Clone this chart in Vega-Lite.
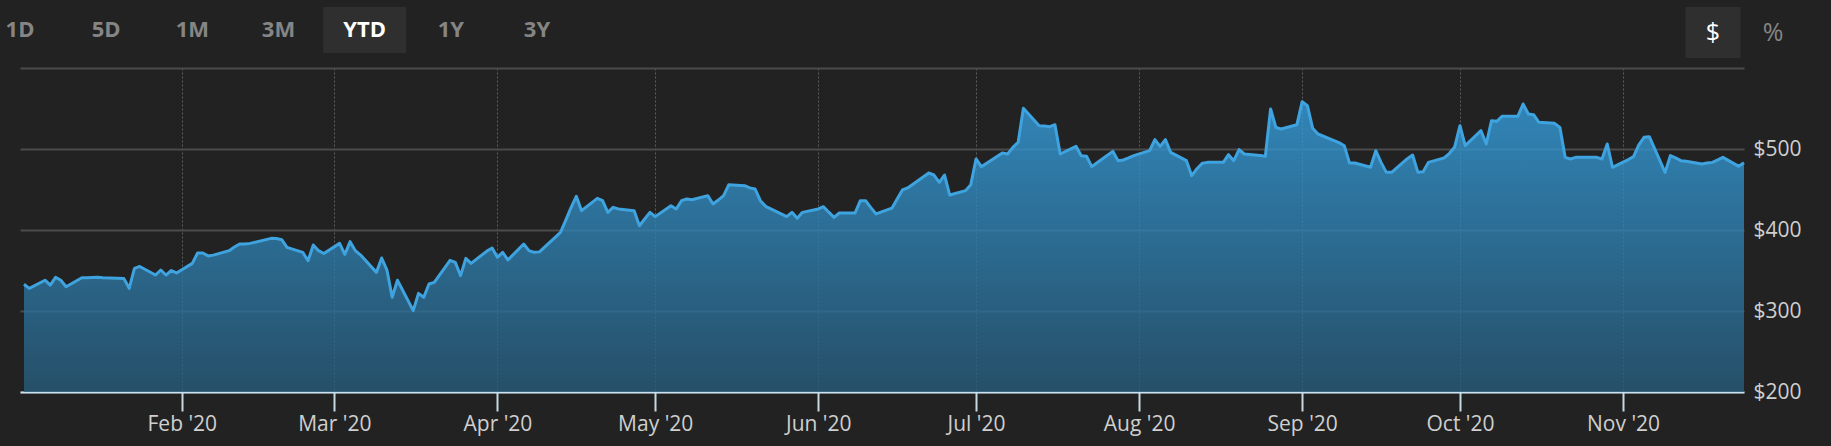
{
  "$schema": "https://vega.github.io/schema/vega-lite/v6.json",
  "background": "#222222",
  "padding": {"left": 5, "top": 7, "right": 33, "bottom": 12},
  "bounds": "full",
  "spacing": 10,
  "config": {"view": {"stroke": null}, "font": "Open Sans"},
  "datasets": {
    "ranges": [
      {"label": "1D", "selected": false},
      {"label": "5D", "selected": false},
      {"label": "1M", "selected": false},
      {"label": "3M", "selected": false},
      {"label": "YTD", "selected": true},
      {"label": "1Y", "selected": false},
      {"label": "3Y", "selected": false}
    ],
    "units": [
      {"label": "$", "selected": true},
      {"label": "%", "selected": false}
    ],
    "prices": [
      {"date": "2020-01-02", "price": 333}, {"date": "2020-01-03", "price": 328},
      {"date": "2020-01-06", "price": 338}, {"date": "2020-01-07", "price": 332},
      {"date": "2020-01-08", "price": 341.6}, {"date": "2020-01-09", "price": 338},
      {"date": "2020-01-10", "price": 330}, {"date": "2020-01-13", "price": 341},
      {"date": "2020-01-14", "price": 341}, {"date": "2020-01-15", "price": 341.5},
      {"date": "2020-01-16", "price": 341.6}, {"date": "2020-01-17", "price": 341},
      {"date": "2020-01-21", "price": 340}, {"date": "2020-01-22", "price": 328},
      {"date": "2020-01-23", "price": 352.7}, {"date": "2020-01-24", "price": 355},
      {"date": "2020-01-27", "price": 344.4}, {"date": "2020-01-28", "price": 350.6},
      {"date": "2020-01-29", "price": 344.4}, {"date": "2020-01-30", "price": 350},
      {"date": "2020-01-31", "price": 347},
      {"date": "2020-02-03", "price": 358.8}, {"date": "2020-02-04", "price": 371.6},
      {"date": "2020-02-05", "price": 371.6}, {"date": "2020-02-06", "price": 368},
      {"date": "2020-02-07", "price": 369}, {"date": "2020-02-10", "price": 374.5},
      {"date": "2020-02-11", "price": 379}, {"date": "2020-02-12", "price": 382.7},
      {"date": "2020-02-13", "price": 382.7}, {"date": "2020-02-14", "price": 383.5},
      {"date": "2020-02-18", "price": 389.7}, {"date": "2020-02-19", "price": 389.5},
      {"date": "2020-02-20", "price": 388}, {"date": "2020-02-21", "price": 378.6},
      {"date": "2020-02-24", "price": 372.4}, {"date": "2020-02-25", "price": 362},
      {"date": "2020-02-26", "price": 381.5}, {"date": "2020-02-27", "price": 374.5},
      {"date": "2020-02-28", "price": 371},
      {"date": "2020-03-02", "price": 383.5}, {"date": "2020-03-03", "price": 370},
      {"date": "2020-03-04", "price": 385.6}, {"date": "2020-03-05", "price": 374.5},
      {"date": "2020-03-06", "price": 369}, {"date": "2020-03-09", "price": 347.7},
      {"date": "2020-03-10", "price": 365.4}, {"date": "2020-03-11", "price": 350.6},
      {"date": "2020-03-12", "price": 316.9}, {"date": "2020-03-13", "price": 338},
      {"date": "2020-03-16", "price": 300.4}, {"date": "2020-03-17", "price": 321.8},
      {"date": "2020-03-18", "price": 316.9}, {"date": "2020-03-19", "price": 333.3},
      {"date": "2020-03-20", "price": 335.4}, {"date": "2020-03-23", "price": 362.6},
      {"date": "2020-03-24", "price": 360}, {"date": "2020-03-25", "price": 343.6},
      {"date": "2020-03-26", "price": 365}, {"date": "2020-03-27", "price": 358.8},
      {"date": "2020-03-30", "price": 374}, {"date": "2020-03-31", "price": 377.8},
      {"date": "2020-04-01", "price": 366.3}, {"date": "2020-04-02", "price": 372.4},
      {"date": "2020-04-03", "price": 363}, {"date": "2020-04-06", "price": 382.7},
      {"date": "2020-04-07", "price": 374.5}, {"date": "2020-04-08", "price": 372.4},
      {"date": "2020-04-09", "price": 373}, {"date": "2020-04-13", "price": 397.1},
      {"date": "2020-04-14", "price": 412.3}, {"date": "2020-04-15", "price": 427.6},
      {"date": "2020-04-16", "price": 441.6}, {"date": "2020-04-17", "price": 423.9},
      {"date": "2020-04-20", "price": 439.1}, {"date": "2020-04-21", "price": 436.2},
      {"date": "2020-04-22", "price": 421.8}, {"date": "2020-04-23", "price": 428},
      {"date": "2020-04-24", "price": 426}, {"date": "2020-04-27", "price": 423.9},
      {"date": "2020-04-28", "price": 405.3}, {"date": "2020-04-29", "price": 413.6},
      {"date": "2020-04-30", "price": 421.8},
      {"date": "2020-05-01", "price": 416.5}, {"date": "2020-05-04", "price": 430},
      {"date": "2020-05-05", "price": 425.9}, {"date": "2020-05-06", "price": 436.2},
      {"date": "2020-05-07", "price": 438.3}, {"date": "2020-05-08", "price": 437.4},
      {"date": "2020-05-11", "price": 442.4}, {"date": "2020-05-12", "price": 432.1},
      {"date": "2020-05-13", "price": 437}, {"date": "2020-05-14", "price": 442.4},
      {"date": "2020-05-15", "price": 456}, {"date": "2020-05-18", "price": 454.7},
      {"date": "2020-05-19", "price": 452}, {"date": "2020-05-20", "price": 450.6},
      {"date": "2020-05-21", "price": 436.2}, {"date": "2020-05-22", "price": 429.2},
      {"date": "2020-05-26", "price": 416.5}, {"date": "2020-05-27", "price": 421.8},
      {"date": "2020-05-28", "price": 414.4}, {"date": "2020-05-29", "price": 421.8},
      {"date": "2020-06-01", "price": 426}, {"date": "2020-06-02", "price": 428.8},
      {"date": "2020-06-03", "price": 422}, {"date": "2020-06-04", "price": 415.6},
      {"date": "2020-06-05", "price": 421}, {"date": "2020-06-08", "price": 421},
      {"date": "2020-06-09", "price": 436.2}, {"date": "2020-06-10", "price": 436.2},
      {"date": "2020-06-11", "price": 427.6}, {"date": "2020-06-12", "price": 419.8},
      {"date": "2020-06-15", "price": 427}, {"date": "2020-06-16", "price": 438.3},
      {"date": "2020-06-17", "price": 449.4}, {"date": "2020-06-18", "price": 451.9},
      {"date": "2020-06-19", "price": 456.4}, {"date": "2020-06-22", "price": 470.4},
      {"date": "2020-06-23", "price": 467.9}, {"date": "2020-06-24", "price": 458.8},
      {"date": "2020-06-25", "price": 467.9}, {"date": "2020-06-26", "price": 443.2},
      {"date": "2020-06-29", "price": 448.6}, {"date": "2020-06-30", "price": 456},
      {"date": "2020-07-01", "price": 487.7}, {"date": "2020-07-02", "price": 478.2},
      {"date": "2020-07-06", "price": 495.1}, {"date": "2020-07-07", "price": 493.8},
      {"date": "2020-07-08", "price": 502}, {"date": "2020-07-09", "price": 508.2},
      {"date": "2020-07-10", "price": 550.2}, {"date": "2020-07-13", "price": 528.8},
      {"date": "2020-07-14", "price": 528.4}, {"date": "2020-07-15", "price": 527.6},
      {"date": "2020-07-16", "price": 530}, {"date": "2020-07-17", "price": 493.8},
      {"date": "2020-07-20", "price": 503.3}, {"date": "2020-07-21", "price": 491.8},
      {"date": "2020-07-22", "price": 491}, {"date": "2020-07-23", "price": 478.2},
      {"date": "2020-07-24", "price": 483}, {"date": "2020-07-27", "price": 497.1},
      {"date": "2020-07-28", "price": 485.6}, {"date": "2020-07-29", "price": 486.4},
      {"date": "2020-07-30", "price": 489}, {"date": "2020-07-31", "price": 491.8},
      {"date": "2020-08-03", "price": 498}, {"date": "2020-08-04", "price": 511.5},
      {"date": "2020-08-05", "price": 503.3}, {"date": "2020-08-06", "price": 511.5},
      {"date": "2020-08-07", "price": 495.9}, {"date": "2020-08-10", "price": 485.6},
      {"date": "2020-08-11", "price": 467.1}, {"date": "2020-08-12", "price": 475.7},
      {"date": "2020-08-13", "price": 482.5}, {"date": "2020-08-14", "price": 483.5},
      {"date": "2020-08-17", "price": 483.5}, {"date": "2020-08-18", "price": 493},
      {"date": "2020-08-19", "price": 485.6}, {"date": "2020-08-20", "price": 499.2},
      {"date": "2020-08-21", "price": 493.8}, {"date": "2020-08-24", "price": 492},
      {"date": "2020-08-25", "price": 491}, {"date": "2020-08-26", "price": 549.4},
      {"date": "2020-08-27", "price": 526.7}, {"date": "2020-08-28", "price": 524.7},
      {"date": "2020-08-31", "price": 530},
      {"date": "2020-09-01", "price": 558.4}, {"date": "2020-09-02", "price": 553.5},
      {"date": "2020-09-03", "price": 525.5}, {"date": "2020-09-04", "price": 518.5},
      {"date": "2020-09-08", "price": 508}, {"date": "2020-09-09", "price": 504.1},
      {"date": "2020-09-10", "price": 482.7}, {"date": "2020-09-11", "price": 482.7},
      {"date": "2020-09-14", "price": 477.4}, {"date": "2020-09-15", "price": 497.9},
      {"date": "2020-09-16", "price": 483.5}, {"date": "2020-09-17", "price": 471.2},
      {"date": "2020-09-18", "price": 471.2}, {"date": "2020-09-21", "price": 488},
      {"date": "2020-09-22", "price": 492.6}, {"date": "2020-09-23", "price": 471.2},
      {"date": "2020-09-24", "price": 472}, {"date": "2020-09-25", "price": 483.5},
      {"date": "2020-09-28", "price": 489}, {"date": "2020-09-29", "price": 494.7},
      {"date": "2020-09-30", "price": 502.5},
      {"date": "2020-10-01", "price": 528.8}, {"date": "2020-10-02", "price": 504.1},
      {"date": "2020-10-05", "price": 522.6}, {"date": "2020-10-06", "price": 506.2},
      {"date": "2020-10-07", "price": 535}, {"date": "2020-10-08", "price": 534.2},
      {"date": "2020-10-09", "price": 540.3}, {"date": "2020-10-12", "price": 540.3},
      {"date": "2020-10-13", "price": 555.6}, {"date": "2020-10-14", "price": 543.2},
      {"date": "2020-10-15", "price": 542.4}, {"date": "2020-10-16", "price": 532.9},
      {"date": "2020-10-19", "price": 531.7}, {"date": "2020-10-20", "price": 526.7},
      {"date": "2020-10-21", "price": 489.7}, {"date": "2020-10-22", "price": 487.7},
      {"date": "2020-10-23", "price": 489.7}, {"date": "2020-10-26", "price": 489.7},
      {"date": "2020-10-27", "price": 489.7}, {"date": "2020-10-28", "price": 487.7},
      {"date": "2020-10-29", "price": 506.2}, {"date": "2020-10-30", "price": 477.4},
      {"date": "2020-11-02", "price": 487}, {"date": "2020-11-03", "price": 490.5},
      {"date": "2020-11-04", "price": 505}, {"date": "2020-11-05", "price": 514.4},
      {"date": "2020-11-06", "price": 515.2}, {"date": "2020-11-09", "price": 471.2},
      {"date": "2020-11-10", "price": 491.8}, {"date": "2020-11-11", "price": 489},
      {"date": "2020-11-12", "price": 485.6}, {"date": "2020-11-13", "price": 484.8},
      {"date": "2020-11-16", "price": 481.5}, {"date": "2020-11-17", "price": 482.7},
      {"date": "2020-11-18", "price": 483.5}, {"date": "2020-11-19", "price": 486.5},
      {"date": "2020-11-20", "price": 489.7}, {"date": "2020-11-23", "price": 478.6},
      {"date": "2020-11-24", "price": 483}
    ]
  },
  "vconcat": [
    {
      "spacing": 1176,
      "bounds": "flush",
      "hconcat": [
        {
          "width": 517,
          "height": 46,
          "data": {"name": "ranges"},
          "encoding": {
            "x": {"field": "label", "type": "nominal", "scale": {"type": "point", "padding": 0, "domain": ["1D", "5D", "1M", "3M", "YTD", "1Y", "3Y"]}, "axis": null}
          },
          "layer": [
            {
              "transform": [{"filter": "datum.selected"}],
              "mark": {"type": "bar", "width": 83, "color": "#2f2f2f"}
            },
            {
              "mark": {"type": "text", "fontSize": 22, "fontWeight": "bold", "font": "Open Sans"},
              "encoding": {
                "text": {"field": "label"},
                "color": {"condition": {"test": "datum.selected", "value": "#ffffff"}, "value": "#858585"}
              }
            }
          ]
        },
        {
          "width": 60,
          "height": 51,
          "data": {"name": "units"},
          "encoding": {
            "x": {"field": "label", "type": "nominal", "scale": {"type": "point", "padding": 0, "domain": ["$", "%"]}, "axis": null}
          },
          "layer": [
            {
              "transform": [{"filter": "datum.selected"}],
              "mark": {"type": "bar", "width": 55, "color": "#2f2f2f"}
            },
            {
              "mark": {"type": "text", "fontSize": 25, "font": "Open Sans"},
              "encoding": {
                "text": {"field": "label"},
                "fontWeight": {"condition": {"test": "datum.selected", "value": "bold"}, "value": "normal"},
                "color": {"condition": {"test": "datum.selected", "value": "#ffffff"}, "value": "#858585"}
              }
            }
          ]
        }
      ]
    },
    {
      "width": 1724,
      "height": 324,
      "data": {"name": "prices"},
      "encoding": {
        "x": {
          "field": "date",
          "type": "temporal",
          "scale": {"type": "utc", "nice": false, "domain": [{"year": 2020, "month": 1, "date": 1, "hours": 5, "minutes": 45, "utc": true}, {"year": 2020, "month": 11, "date": 24, "utc": true}]},
          "axis": {
            "title": null,
            "format": "%b '%y",
            "tickCount": "month",
            "labelFont": "Open Sans",
            "labelFontSize": 21,
            "labelColor": "#cfcfcf",
            "labelPadding": 2,
            "labelFlush": false,
            "labelOverlap": false,
            "domainColor": "#c9e2ee",
            "domainWidth": 2,
            "tickColor": "#c5d8e2",
            "tickWidth": 2,
            "tickSize": 19,
            "grid": true,
            "gridColor": "#5c5c5c",
            "gridWidth": 1,
            "gridDash": [2, 2]
          }
        },
        "y": {
          "field": "price",
          "type": "quantitative",
          "scale": {"domain": [200, 600], "nice": false, "zero": false},
          "axis": {
            "orient": "right",
            "title": null,
            "values": [200, 300, 400, 500, 600],
            "labelExpr": "datum.value == 600 ? '' : '$' + datum.value",
            "labelFont": "Open Sans",
            "labelFontSize": 21,
            "labelColor": "#cfcfcf",
            "labelPadding": 9,
            "domain": false,
            "ticks": false,
            "grid": true,
            "gridColor": "#4b4b4b",
            "gridWidth": 2
          }
        }
      },
      "layer": [
        {
          "mark": {
            "type": "area",
            "fillOpacity": 0.78,
            "color": {
              "gradient": "linear",
              "x1": 0, "y1": 0, "x2": 0, "y2": 1,
              "stops": [
                {"offset": 0, "color": "#35a1e2"},
                {"offset": 1, "color": "#275c7c"}
              ]
            }
          },
          "encoding": {"y2": {"datum": 200}}
        },
        {
          "mark": {"type": "line", "color": "#3fa3df", "strokeWidth": 3, "strokeJoin": "round"}
        }
      ]
    }
  ]
}
